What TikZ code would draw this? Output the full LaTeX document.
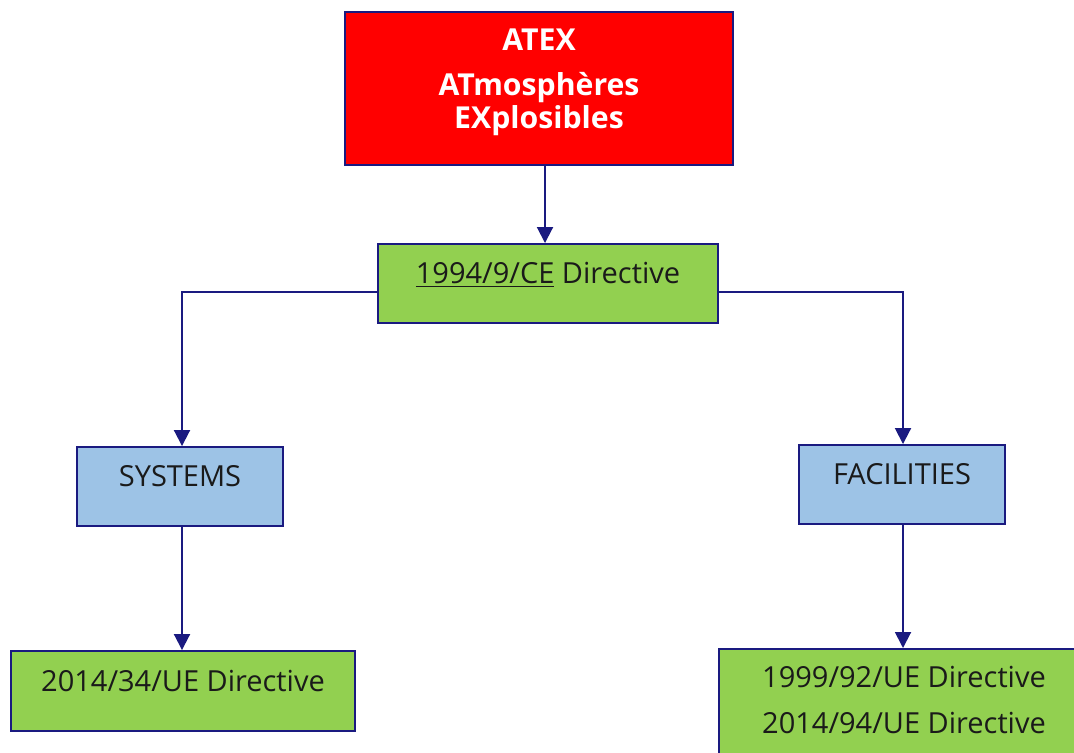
\documentclass[tikz,border=0pt]{standalone}
\usepackage{fontspec}
\setmainfont{Open Sans}
\usepackage{tikz}
\usetikzlibrary{calc,positioning,arrows.meta}
\usepackage{xcolor}
\definecolor{atexred}{RGB}{255,0,0}
\definecolor{dirgreen}{RGB}{146,208,80}
\definecolor{catblue}{RGB}{157,195,230}
\definecolor{navyline}{RGB}{26,26,128}
\definecolor{boxtext}{RGB}{26,26,26}

\begin{document}
\begin{tikzpicture}[x=0.02cm, y=-0.02cm,
    box/.style={draw=navyline, line width=1.1pt, inner ysep=0pt, inner xsep=0pt,
        font=\fontsize{16.5}{18.8}\selectfont, text=boxtext,
        text height=0.79cm, text depth=0.79cm},
    dirbox/.style={box, fill=dirgreen},
    catbox/.style={box, fill=catblue},
    link/.style={draw=navyline, line width=1.1pt},
    arrowlink/.style={link, -{Triangle[width=0.32cm, length=0.32cm]}}]
            % Page frame of the picture
            \clip (0,0) rectangle (1074,753);
            \fill[white] (0,0) rectangle (1074,753);

            % Top box: ATEX
            \node[box, fill=atexred, text=white, minimum width=7.76cm,
                text height=0.76cm, text depth=2.3cm,
                font=\bfseries\fontsize{17.2}{18.8}\selectfont] (atex) at (539,88.5)
                {\begin{tabular}[t]{@{}c@{}}ATEX\\[6.8pt] ATmosphères\\ EXplosibles\end{tabular}};

            % Main directive
            \node[dirbox, minimum width=6.8cm] (dir94) at (548,283.5) {\underline{1994/9/CE} Directive};

            % Two categories
            \node[catbox, minimum width=4.12cm] (sys) at (180,486.5) {SYSTEMS};
            \node[catbox, minimum width=4.12cm] (fac) at (902,484.5) {FACILITIES};

            % Directives under each category
            \node[dirbox, minimum width=6.88cm, text height=0.8cm, text depth=0.8cm] (dirsys) at (183,691)
                {2014/34/UE Directive};
            \node[dirbox, minimum width=7.4cm, anchor=north, text height=0.77cm, text depth=2cm] (dirfac) at (904,648)
                {\begin{tabular}[t]{@{}c@{}}1999/92/UE Directive\\[7.3pt] 2014/94/UE Directive\end{tabular}};

            % Connectors
            \coordinate (c1) at ($(atex.south)+(6,0)$);
            \draw[arrowlink] (c1) -- (c1 |- dir94.north);
            \coordinate (jl) at ($(dir94.west)+(0,8.5)$);
            \coordinate (jr) at ($(dir94.east)+(0,8.5)$);
            \draw[arrowlink] (jl) -| ($(sys.north)+(2,0)$);
            \draw[arrowlink] (jr) -| ($(fac.north)+(1,0)$);
            \coordinate (c2) at ($(sys.south)+(2,0)$);
            \draw[arrowlink] (c2) -- (c2 |- dirsys.north);
            \coordinate (c3) at ($(fac.south)+(1,0)$);
            \draw[arrowlink] (c3) -- (c3 |- dirfac.north);
        \end{tikzpicture}
\end{document}
